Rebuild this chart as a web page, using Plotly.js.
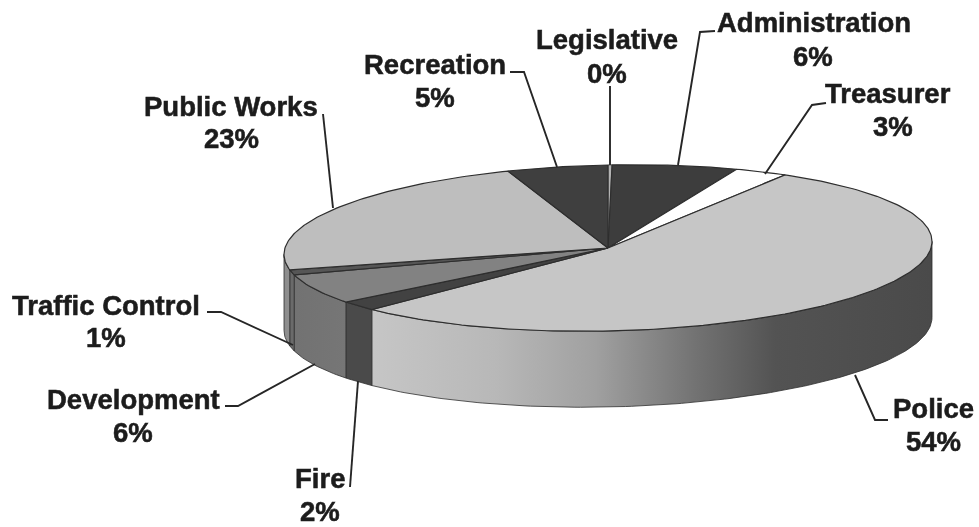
<!DOCTYPE html>
<html><head><meta charset="utf-8">
<script src="https://cdn.plot.ly/plotly-3.0.1.min.js"></script>
<style>html,body{margin:0;padding:0;background:#fff}#g{width:979px;height:527px;filter:blur(0.35px)}
#g .annotation-text{stroke:#1c1c1c;stroke-width:0.55px}</style>
</head><body><div id="g"></div>
<script>
const categories=['Legislative','Administration','Treasurer','Police','Fire','Development','Traffic Control','Public Works','Recreation'];
const shares=[0.2,6.3,2.7,53.8,2,6,1,23,5];
const topColors=['#b4b4b4','#3d3d3d','#ffffff','#c6c6c6','#424242','#828282','#565656','#bebebe','#3f3f3f'];
const sideStops=[
 null,null,null,
 [[0,'#c6c6c6'],[0.22,'#b8b8b8'],[0.40,'#a0a0a0'],[0.58,'#727272'],[0.72,'#535353'],[1,'#4a4a4a']],
 [[0,'#4a4a4a'],[1,'#4a4a4a']],
 [[0,'#727272'],[1,'#767676']],
 [[0,'#6a6a6a'],[1,'#6a6a6a']],
 [[0,'#8e8e8e'],[1,'#8e8e8e']],
 null];
const labelOrder=['Legislative','Administration','Treasurer','Recreation','Public Works','Traffic Control','Development','Fire','Police'];
const nameX=[607,814,888,435,231,106,133,320,933];
const nameY=[39,22,93,64,106,305,399,478,408];
const pctX=[607,813,893,435,231,106,133,320,933];
const pctY=[73,56,126,97,138,337,432,511,441];
const leaders=[
 'M610,86L610,165','M715,31L700,32L678,165','M826,103L812,105L765,174',
 'M510,72L524,72L557,167','M323,114L333,208','M207,312L221,312L293,345',
 'M225,406L238,406L315,364','M350,487L358,381','M888,420L875,420L855,375'];
const cx=608,cy=248,rx=324,ry=83,depth=76,tilt=-0.02;
const pt=(deg,d)=>{const a=deg*Math.PI/180;const x=cx+rx*Math.sin(a);
 return [x,cy-ry*Math.cos(a)+(x-cx)*tilt+d];};
const arc=(a0,a1,d)=>{const n=Math.max(2,Math.ceil(Math.abs(a1-a0)));const o=[];
 for(let i=0;i<=n;i++)o.push(pt(a0+(a1-a0)*i/n,d));return o;};
const edges=[];let cum=0;shares.forEach(s=>{edges.push([cum*3.6,(cum+s)*3.6]);cum+=s;});
const traces=[];
const poly=(pts,fill,grad,w)=>{const t={x:pts.map(p=>p[0]),y:pts.map(p=>p[1]),mode:'lines',fill:'toself',
 line:{color:'#2e2e2e',width:w===undefined?1.3:w},hoverinfo:'skip',showlegend:false,type:'scatter'};
 if(grad)t.fillgradient={type:'horizontal',colorscale:grad};else t.fillcolor=fill;traces.push(t);};
edges.forEach((e,i)=>{
 const a0=Math.max(e[0],90),a1=Math.min(e[1],270);
 if(a1<=a0||!sideStops[i])return;
 const pts=arc(a0,a1,0).concat(arc(a1,a0,depth));pts.push(pts[0]);
 poly(pts,null,sideStops[i],0.8);
});
edges.forEach((e,i)=>{
 const pts=[[cx,cy]].concat(arc(e[0],e[1],0));pts.push([cx,cy]);
 poly(pts,topColors[i],null,i===0?0.6:1.2);
});
const font={family:'"Liberation Sans",Arial,sans-serif',size:27.5,color:'#1c1c1c',weight:700};
const annotations=[];
labelOrder.forEach((name,i)=>{
 const v=shares[categories.indexOf(name)];
 annotations.push({x:nameX[i],y:nameY[i],xref:'x',yref:'y',text:name,showarrow:false,font,xanchor:'center',yanchor:'middle'});
 annotations.push({x:pctX[i],y:pctY[i],xref:'x',yref:'y',text:Math.round(v)+'%',showarrow:false,font,xanchor:'center',yanchor:'middle'});
});
const shapes=leaders.map(p=>({type:'path',path:p,xref:'x',yref:'y',line:{color:'#262626',width:1.9},layer:'above'}));
Plotly.newPlot('g',traces,{width:979,height:527,margin:{l:0,r:0,t:0,b:0},paper_bgcolor:'#fff',plot_bgcolor:'#fff',
 xaxis:{range:[0,979],visible:false,fixedrange:true},yaxis:{range:[527,0],visible:false,fixedrange:true},
 showlegend:false,annotations,shapes},{displayModeBar:false,staticPlot:true});
</script></body></html>
